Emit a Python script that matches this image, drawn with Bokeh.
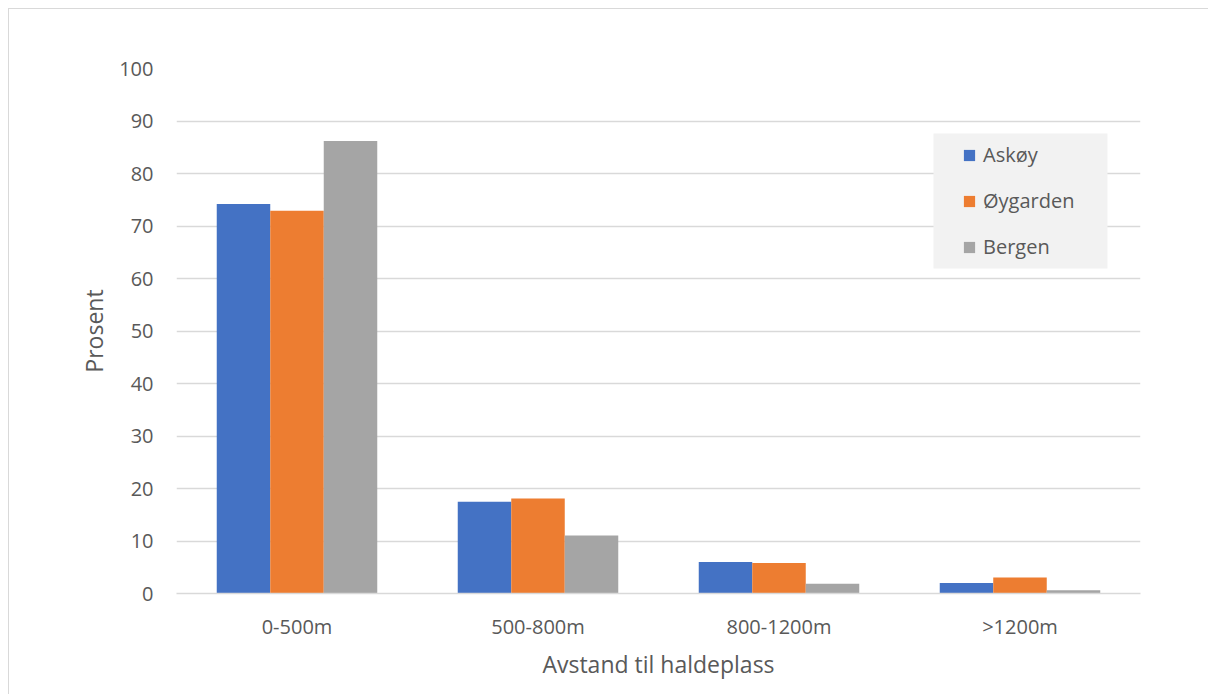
from bokeh.plotting import figure
from bokeh.models import FactorRange, FixedTicker, Legend, LegendItem, BoxAnnotation, ColumnDataSource
from bokeh.transform import dodge
from bokeh.embed import file_html
from bokeh.resources import INLINE

categories = ["0-500m", "500-800m", "800-1200m", ">1200m"]
askoy = [74.2, 17.5, 6.0, 2.0]
oygarden = [72.9, 18.1, 5.8, 3.05]
bergen = [86.2, 11.05, 1.85, 0.63]
series_names = ["Askøy", "Øygarden", "Bergen"]
colors = ["#4472C4", "#ED7D31", "#A5A5A5"]
y_ticks = list(range(0, 101, 10))

FONT = "Open Sans"
TXT = "#595959"

src = ColumnDataSource(dict(cat=categories, askoy=askoy, oygarden=oygarden, bergen=bergen))

p = figure(width=1208, height=694, x_range=FactorRange(*categories, range_padding=0),
           y_range=(0, 100), output_backend="svg", toolbar_location=None,
           min_border_left=176, min_border_right=68, min_border_top=68, min_border_bottom=101)
p.border_fill_alpha = 0
p.background_fill_alpha = 0
p.styles = {"background": "linear-gradient(#d9d9d9,#d9d9d9) 8px 8px / 1px 100% no-repeat, "
                          "linear-gradient(#d9d9d9,#d9d9d9) 8px 8px / 100% 1px no-repeat, white"}

p.outline_line_color = None
p.xgrid.grid_line_color = None
p.ygrid.grid_line_color = "#D9D9D9"
p.ygrid.grid_line_width = 1.5

bw = 0.222
renderers = []
for key, off, col in zip(["askoy", "oygarden", "bergen"], [-bw, 0, bw], colors):
    r = p.vbar(x=dodge("cat", off, range=p.x_range), top=key, width=bw, source=src,
               fill_color=col, line_color=None)
    renderers.append(r)

# legend background panel (synthetic categorical x, data y)
p.add_layout(BoxAnnotation(left=3.141, right=3.863, bottom=61.9, top=87.62,
                           fill_color="#F2F2F2", fill_alpha=1, line_color=None))

legend = Legend(items=[LegendItem(label=n, renderers=[r]) for n, r in zip(series_names, renderers)],
                location=(786, 333), background_fill_alpha=0, border_line_color=None,
                padding=0, margin=0, spacing=19, label_height=20,
                glyph_height=14, glyph_width=14, label_standoff=7,
                label_text_font=FONT, label_text_font_size="20px", label_text_color=TXT)
p.add_layout(legend)

p.yaxis.ticker = FixedTicker(ticks=y_ticks)
p.yaxis.axis_line_color = None
p.yaxis.major_tick_line_color = None
p.yaxis.minor_tick_line_color = None
p.yaxis.major_label_standoff = 17
p.yaxis.major_label_text_font = FONT
p.yaxis.major_label_text_font_size = "20px"
p.yaxis.major_label_text_color = TXT
p.yaxis.axis_label = "Prosent"
p.yaxis.axis_label_text_font = FONT
p.yaxis.axis_label_text_font_size = "23px"
p.yaxis.axis_label_text_font_style = "normal"
p.yaxis.axis_label_text_color = TXT
p.yaxis.axis_label_standoff = 6

p.xaxis.axis_line_color = "#D9D9D9"
p.xaxis.axis_line_width = 1.5
p.xaxis.major_tick_line_color = None
p.xaxis.minor_tick_line_color = None
p.xaxis.major_label_standoff = 13
p.xaxis.major_label_text_font = FONT
p.xaxis.major_label_text_font_size = "20px"
p.xaxis.major_label_text_color = TXT
p.xaxis.axis_label = "Avstand til haldeplass"
p.xaxis.axis_label_text_font = FONT
p.xaxis.axis_label_text_font_size = "23px"
p.xaxis.axis_label_text_font_style = "normal"
p.xaxis.axis_label_text_color = TXT
p.xaxis.axis_label_standoff = 5

open("out.html", "w").write(file_html(p, INLINE))
